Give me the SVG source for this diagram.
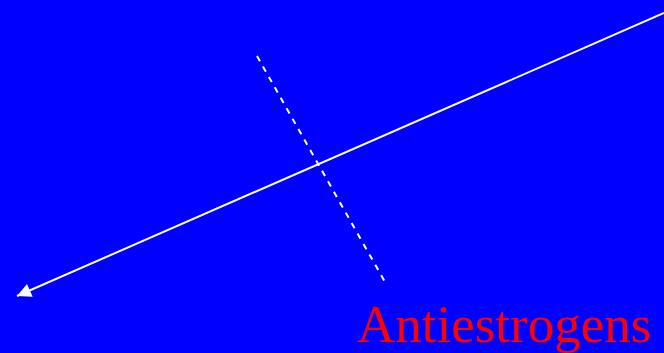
<svg xmlns="http://www.w3.org/2000/svg" width="664" height="353" viewBox="0 0 664 353">
<style>
.ln{stroke:#fff;stroke-width:2;fill:none}
.lbl{font-family:"Liberation Serif","Times New Roman",serif;font-size:53px;fill:#f00}
</style>
<defs>
<marker id="ah" viewBox="0 0 10 10" refX="10" refY="5" markerWidth="9" markerHeight="7" markerUnits="strokeWidth" orient="auto">
<path d="M0,0 L10,5 L0,10 z" fill="#fff"/>
</marker>
</defs>
<rect width="664" height="353" fill="#0000ff"/>
<g id="connectors">
<line class="ln" x1="664" y1="13" x2="17" y2="296" marker-end="url(#ah)"/>
<line class="ln" x1="257" y1="56" x2="385" y2="282" stroke-dasharray="6,6"/>
</g>
<g id="antiestrogens">
<text class="lbl" x="357" y="342">Antiestrogens</text>
</g>
</svg>
